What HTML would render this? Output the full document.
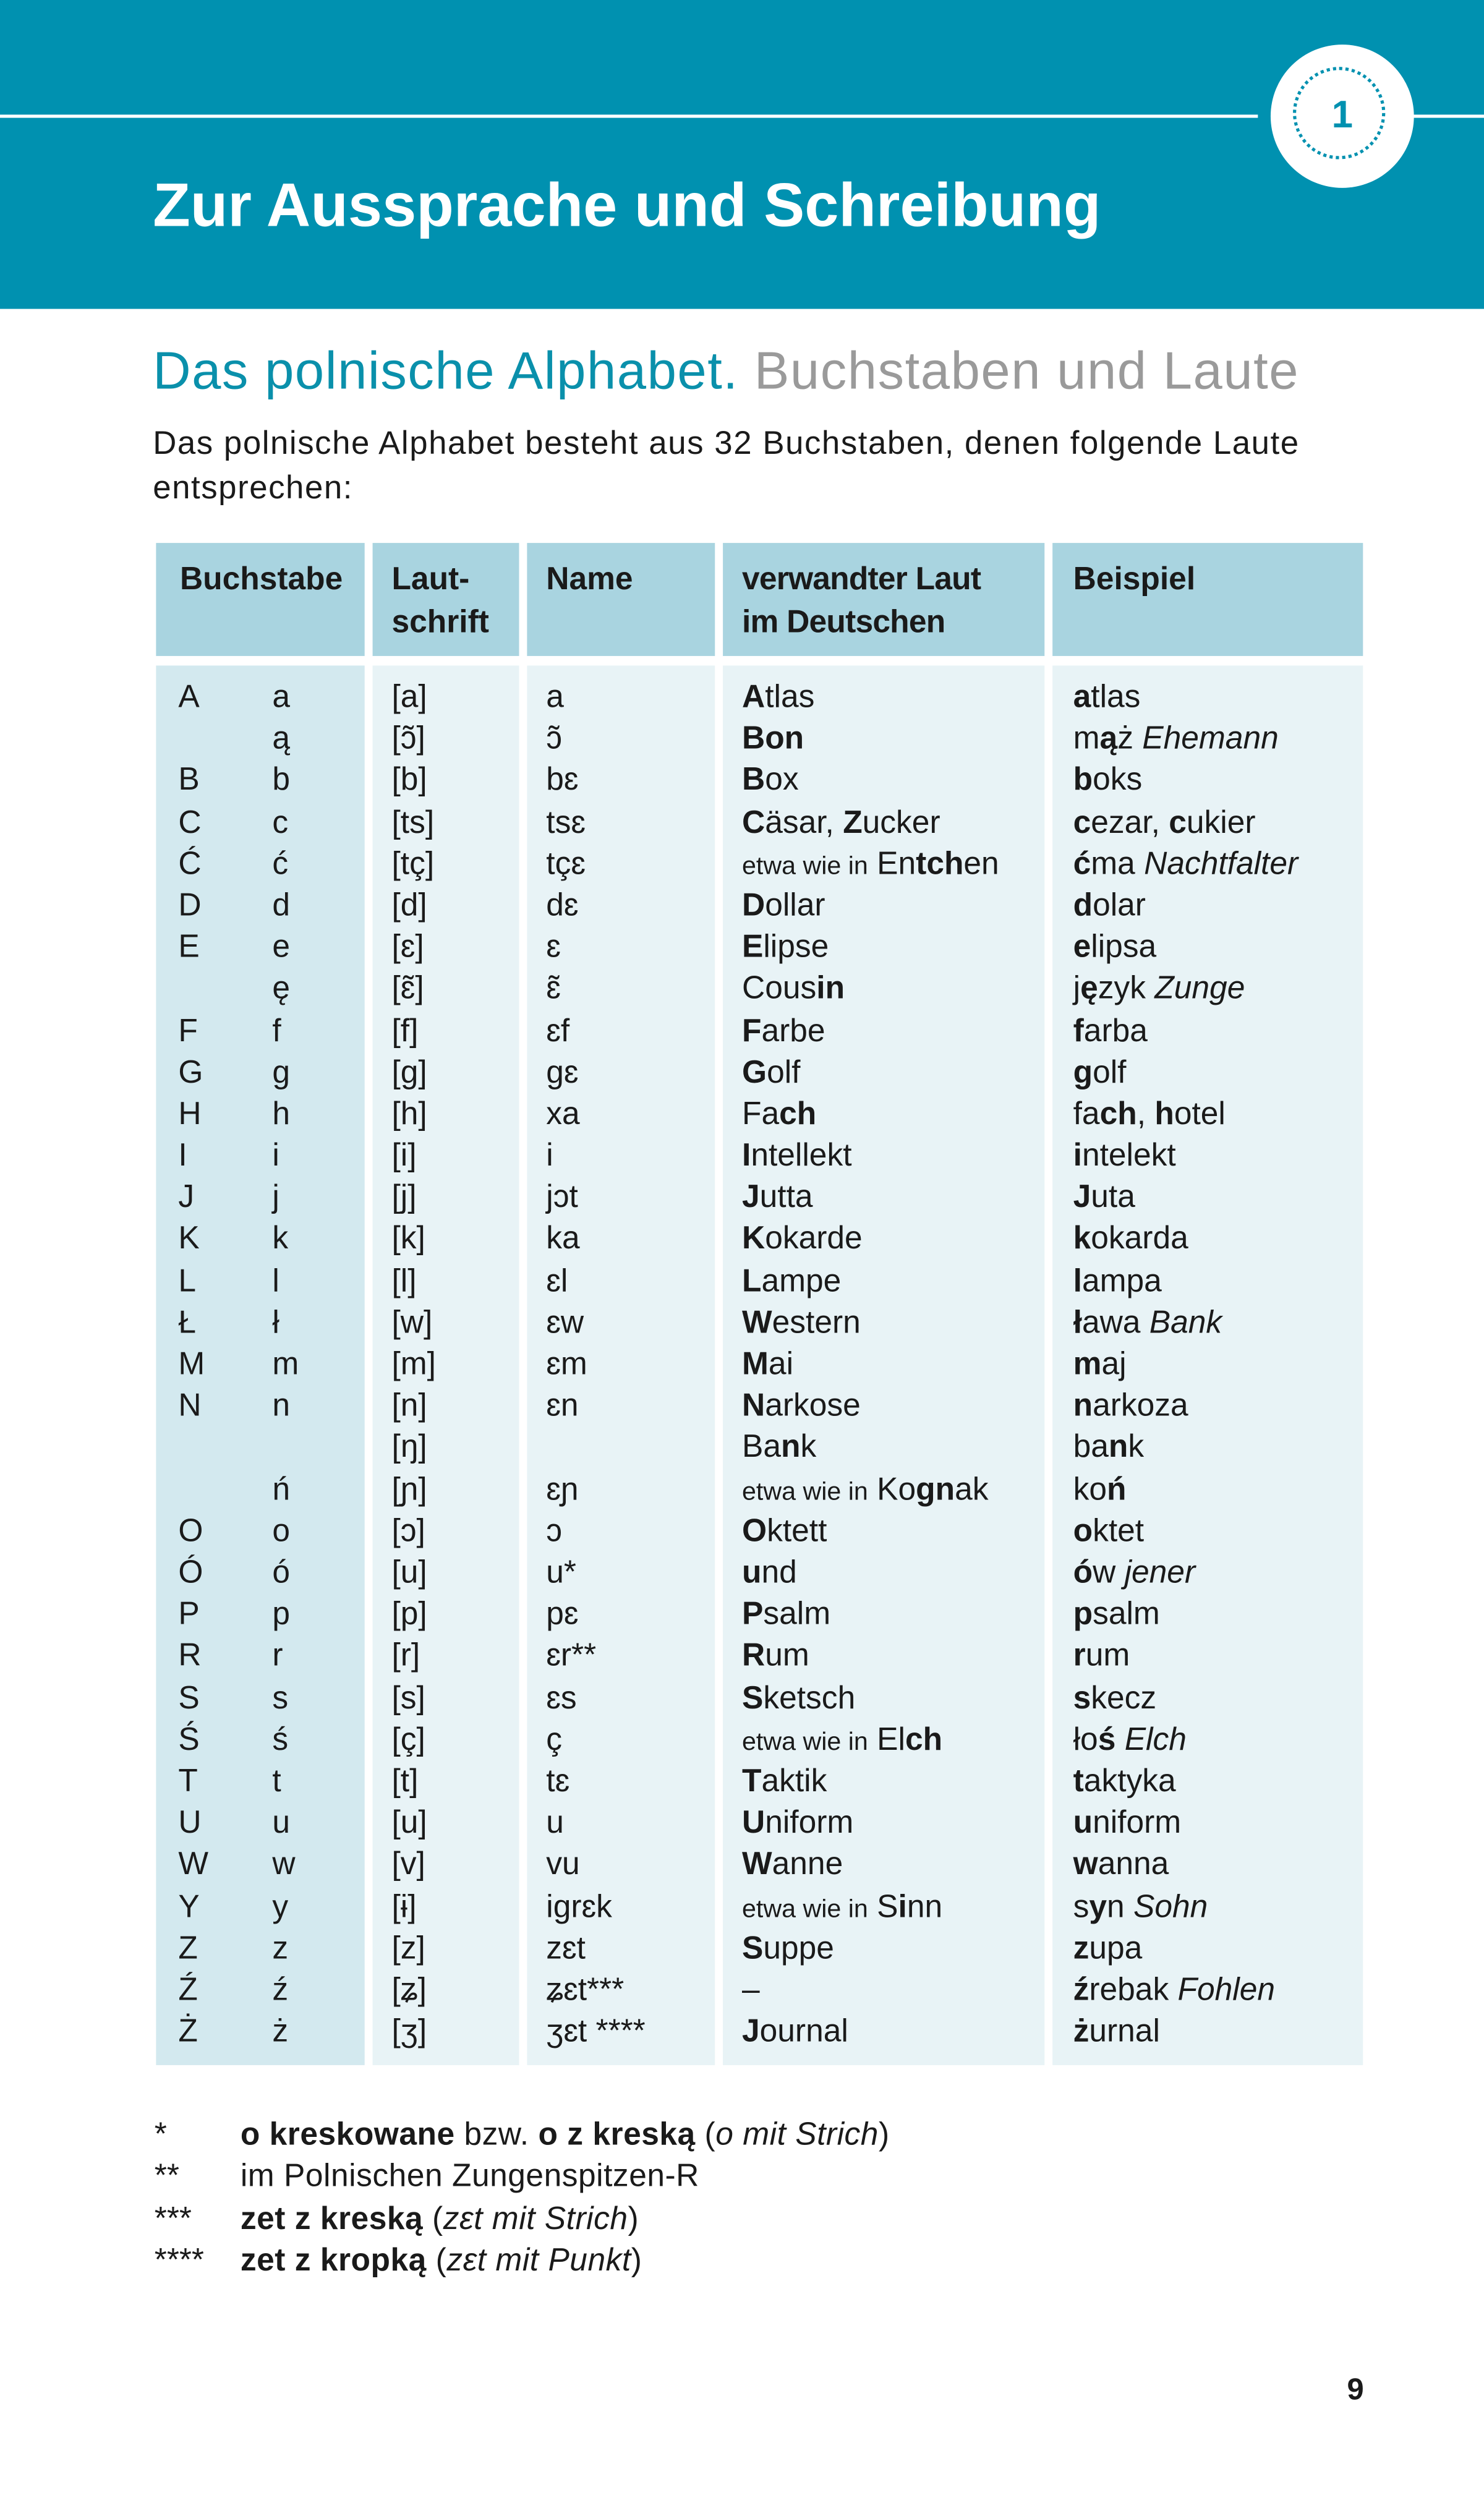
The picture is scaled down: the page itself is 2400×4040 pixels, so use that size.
<!DOCTYPE html>
<html><head><meta charset="utf-8">
<style>
html,body{margin:0;padding:0;background:#fff;}
body{width:2400px;height:4039px;overflow:hidden;position:relative;}
#p{position:absolute;left:0;top:0;width:932px;height:1569px;transform:scale(2.5751);transform-origin:0 0;font-family:"Liberation Sans","DejaVu Sans",sans-serif;color:#1a1a1a;}
.a{position:absolute;white-space:nowrap;}
#band{position:absolute;left:0;top:0;width:932px;height:194px;background:#0091b0;}
.cell{position:absolute;}
.r{position:absolute;height:26.2px;line-height:26.2px;font-size:20px;white-space:nowrap;}
.r span{position:absolute;top:0;}
small{font-size:16px;}
</style></head><body>
<div id="p">
<div id="band"></div>
<div class="a" style="left:0;top:72px;width:790px;height:2px;background:#fff"></div>
<div class="a" style="left:885px;top:72px;width:47px;height:2px;background:#fff"></div>
<div class="a" style="left:798px;top:28px;width:90px;height:90px;border-radius:50%;background:#fff"></div>
<div class="a" style="left:812px;top:42px;width:58px;height:58px;border-radius:50%;border:2px dotted #0091b0;box-sizing:border-box"></div>
<div class="a" style="left:798px;top:58px;width:90px;text-align:center;font-size:24px;font-weight:bold;color:#0091b0;line-height:30px">1</div>
<div class="a" style="left:96px;top:106px;font-size:38.5px;font-weight:bold;color:#fff;line-height:48px;letter-spacing:0px">Zur Aussprache und Schreibung</div>
<div class="a" style="left:96px;top:212px;font-size:33px;line-height:42px;letter-spacing:0.6px"><span style="color:#0a90ab">Das polnische Alphabet.</span> <span style="color:#9a9a9a">Buchstaben und Laute</span></div>
<div class="a" style="left:96px;top:265px;font-size:20.5px;line-height:28px;letter-spacing:0.6px">Das polnische Alphabet besteht aus 32 Buchstaben, denen folgende Laute<br>entsprechen:</div>

<!-- header -->
<div class="cell" style="left:98px;top:341px;width:131px;height:71px;background:#a9d4e0"></div>
<div class="cell" style="left:234px;top:341px;width:92px;height:71px;background:#a9d4e0"></div>
<div class="cell" style="left:331px;top:341px;width:118px;height:71px;background:#a9d4e0"></div>
<div class="cell" style="left:454px;top:341px;width:202px;height:71px;background:#a9d4e0"></div>
<div class="cell" style="left:661px;top:341px;width:195px;height:71px;background:#a9d4e0"></div>
<div class="a" style="left:113px;top:351px;font-size:20px;font-weight:bold;line-height:27px">Buchstabe</div>
<div class="a" style="left:246px;top:351px;font-size:20px;font-weight:bold;line-height:27px">Laut-<br>schrift</div>
<div class="a" style="left:343px;top:351px;font-size:20px;font-weight:bold;line-height:27px">Name</div>
<div class="a" style="left:466px;top:351px;font-size:20px;font-weight:bold;line-height:27px;letter-spacing:-0.3px">verwandter Laut<br>im Deutschen</div>
<div class="a" style="left:674px;top:351px;font-size:20px;font-weight:bold;line-height:27px">Beispiel</div>

<!-- body -->
<div class="cell" style="left:98px;top:418px;width:131px;height:879px;background:#d3e9ef"></div>
<div class="cell" style="left:234px;top:418px;width:92px;height:879px;background:#e8f3f6"></div>
<div class="cell" style="left:331px;top:418px;width:118px;height:879px;background:#e8f3f6"></div>
<div class="cell" style="left:454px;top:418px;width:202px;height:879px;background:#e8f3f6"></div>
<div class="cell" style="left:661px;top:418px;width:195px;height:879px;background:#e8f3f6"></div>

<div id="rows"></div>
<script>
var d=[
["A","a","[a]","a","<b>A</b>tlas","<b>a</b>tlas"],
["","ą","[ɔ̃]","ɔ̃","<b>Bon</b>","m<b>ą</b>ż <i>Ehemann</i>"],
["B","b","[b]","bɛ","<b>B</b>ox","<b>b</b>oks"],
["C","c","[ts]","tsɛ","<b>C</b>äsar, <b>Z</b>ucker","<b>c</b>ezar, <b>c</b>ukier"],
["Ć","ć","[tç]","tçɛ","<small>etwa wie in</small> En<b>tch</b>en","<b>ć</b>ma <i>Nachtfalter</i>"],
["D","d","[d]","dɛ","<b>D</b>ollar","<b>d</b>olar"],
["E","e","[ɛ]","ɛ","<b>E</b>lipse","<b>e</b>lipsa"],
["","ę","[ɛ̃]","ɛ̃","Cous<b>in</b>","j<b>ę</b>zyk <i>Zunge</i>"],
["F","f","[f]","ɛf","<b>F</b>arbe","<b>f</b>arba"],
["G","g","[g]","gɛ","<b>G</b>olf","<b>g</b>olf"],
["H","h","[h]","xa","Fa<b>ch</b>","fa<b>ch</b>, <b>h</b>otel"],
["I","i","[i]","i","<b>I</b>ntellekt","<b>i</b>ntelekt"],
["J","j","[j]","jɔt","<b>J</b>utta","<b>J</b>uta"],
["K","k","[k]","ka","<b>K</b>okarde","<b>k</b>okarda"],
["L","l","[l]","ɛl","<b>L</b>ampe","<b>l</b>ampa"],
["Ł","ł","[w]","ɛw","<b>W</b>estern","<b>ł</b>awa <i>Bank</i>"],
["M","m","[m]","ɛm","<b>M</b>ai","<b>m</b>aj"],
["N","n","[n]","ɛn","<b>N</b>arkose","<b>n</b>arkoza"],
["","","[ŋ]","","Ba<b>n</b>k","ba<b>n</b>k"],
["","ń","[ɲ]","ɛɲ","<small>etwa wie in</small> Ko<b>gn</b>ak","ko<b>ń</b>"],
["O","o","[ɔ]","ɔ","<b>O</b>ktett","<b>o</b>ktet"],
["Ó","ó","[u]","u*","<b>u</b>nd","<b>ó</b>w <i>jener</i>"],
["P","p","[p]","pɛ","<b>P</b>salm","<b>p</b>salm"],
["R","r","[r]","ɛr**","<b>R</b>um","<b>r</b>um"],
["S","s","[s]","ɛs","<b>S</b>ketsch","<b>s</b>kecz"],
["Ś","ś","[ç]","ç","<small>etwa wie in</small> El<b>ch</b>","ło<b>ś</b> <i>Elch</i>"],
["T","t","[t]","tɛ","<b>T</b>aktik","<b>t</b>aktyka"],
["U","u","[u]","u","<b>U</b>niform","<b>u</b>niform"],
["W","w","[v]","vu","<b>W</b>anne","<b>w</b>anna"],
["Y","y","[ɨ]","igrɛk","<small>etwa wie in</small> S<b>i</b>nn","s<b>y</b>n <i>Sohn</i>"],
["Z","z","[z]","zɛt","<b>S</b>uppe","<b>z</b>upa"],
["Ź","ź","[ʑ]","ʑɛt***","–","<b>ź</b>rebak <i>Fohlen</i>"],
["Ż","ż","[ʒ]","ʒɛt ****","<b>J</b>ournal","<b>ż</b>urnal"]];
var xs=[112,171,246,343,466,674],h="";
for(var i=0;i<d.length;i++){h+='<div class="r" style="left:0;top:'+(425+i*26.19)+'px">';
for(var j=0;j<6;j++)h+='<span style="left:'+xs[j]+'px">'+d[i][j]+'</span>';h+='</div>';}
document.getElementById("rows").innerHTML=h;
</script>

<div class="a" style="left:97px;top:1328px;font-size:20px;line-height:26.3px">*<br>**<br>***<br>****</div>
<div class="a" style="left:151px;top:1328px;font-size:20px;line-height:26.3px;letter-spacing:0.2px"><b>o kreskowane</b> bzw. <b>o z kreską</b> (<i>o mit Strich</i>)<br>im Polnischen Zungenspitzen-R<br><b>zet z kreską</b> (<i>zɛt mit Strich</i>)<br><b>zet z kropką</b> (<i>zɛt mit Punkt</i>)</div>
<div class="a" style="left:846px;top:1490px;font-size:19px;font-weight:bold;line-height:24px">9</div>
</div>
</body></html>
